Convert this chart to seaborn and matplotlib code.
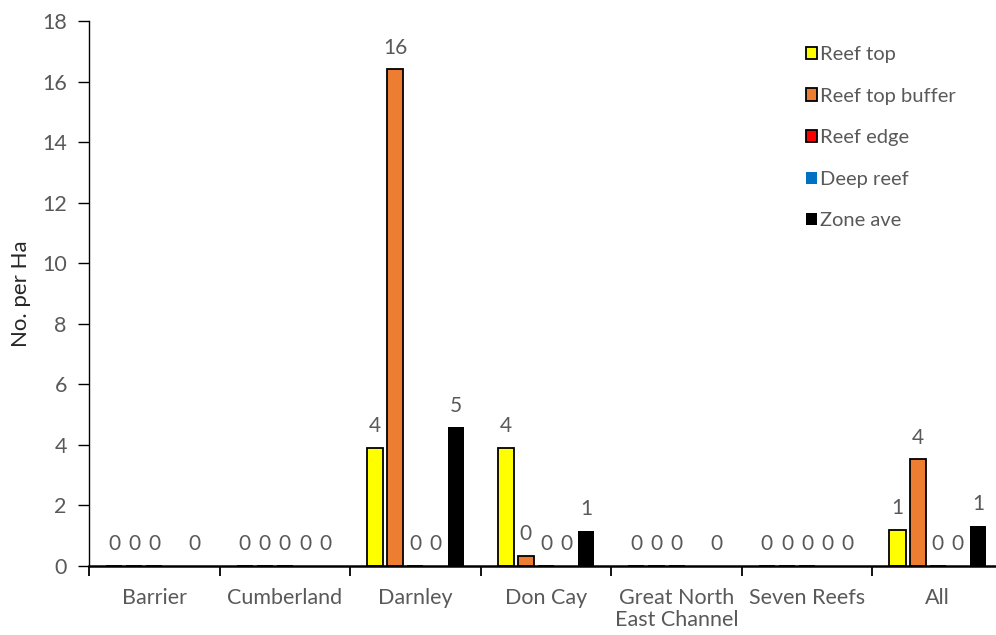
import numpy as np
import pandas as pd
import matplotlib
matplotlib.use("Agg")
import matplotlib.pyplot as plt
from matplotlib.patches import Patch
import seaborn as sns

# Sites along the x axis
sites = ["Barrier", "Cumberland", "Darnley", "Don Cay",
         "Great North\nEast Channel", "Seven Reefs", "All"]

# Habitat zones (one bar per zone within each site)
zones = ["Reef top", "Reef top buffer", "Reef edge", "Deep reef", "Zone ave"]

# Density (No. per Ha) for each zone; NaN = zone not surveyed at that site
reef_top        = [0.0, 0.0, 3.9,  3.9,  0.0, 0.0, 1.18]
reef_top_buffer = [0.0, 0.0, 16.4, 0.33, 0.0, 0.0, 3.52]
reef_edge       = [0.0, 0.0, 0.0,  0.0,  0.0, 0.0, 0.0]
deep_reef       = [np.nan, 0.0, 0.0, 0.0, np.nan, 0.0, 0.0]
zone_ave        = [0.0, 0.0, 4.58, 1.15, 0.0, 0.0, 1.32]

zone_colors = ["#FFFF00", "#ED7D31", "#FF0000", "#0070C0", "#000000"]
zone_edges = ["#000000", "#000000", "#000000", "none", "none"]

rows = []
for zone, vals in zip(zones, [reef_top, reef_top_buffer, reef_edge, deep_reef, zone_ave]):
    for site, v in zip(sites, vals):
        if not np.isnan(v):
            rows.append({"site": site, "zone": zone, "value": v})
df = pd.DataFrame(rows)

sns.set_theme(style="white")
font = "Lato"
plt.rcParams["font.family"] = [font, "DejaVu Sans"]
gray = "#595959"

fig = plt.figure(figsize=(9.96, 6.35), dpi=100)
ax = fig.add_axes([89 / 996, 1 - 566 / 635, (1003 - 89) / 996, 545 / 635])

sns.barplot(data=df, x="site", y="value", hue="zone", order=sites, hue_order=zones,
            palette=zone_colors, width=0.77, gap=0.2, errorbar=None,
            saturation=1, ax=ax, legend=False)


def excel_round(v):
    return f"{int(np.floor(v + 0.5))}"


for cont, ec in zip(ax.containers, zone_edges):
    for bar in cont:
        if ec == "none":
            bar.set_edgecolor("none")
            bar.set_linewidth(0)
        else:
            bar.set_edgecolor(ec)
            bar.set_linewidth(1.3)
    ax.bar_label(cont, labels=[excel_round(v) for v in cont.datavalues],
                 padding=8.5, color=gray, fontsize=15)

ax.set_ylim(0, 18)
ax.set_yticks(np.arange(0, 19, 2))
ax.set_xlim(-0.5, len(sites) - 0.5)

# Category boundaries as major ticks, names centred between them
ax.set_xticks(np.arange(-0.5, len(sites), 1.0))
ax.set_xticklabels([])
ax.set_xticks(np.arange(len(sites)), minor=True)
ax.set_xticklabels(sites, minor=True, color=gray, fontsize=15.5, linespacing=1.1)
ax.tick_params(axis="x", which="major", direction="out", length=7, width=1.3,
               color="black", bottom=True)
ax.tick_params(axis="x", which="minor", length=0, pad=16)
ax.tick_params(axis="y", direction="out", length=8, width=1.0, color="black",
               left=True, labelsize=15.5, labelcolor=gray, pad=8)

for side in ["top", "right"]:
    ax.spines[side].set_visible(False)
ax.spines["left"].set_color("#000000")
ax.spines["left"].set_linewidth(1.0)
ax.spines["bottom"].set_color("#000000")
ax.spines["bottom"].set_linewidth(1.8)

ax.set_xlabel("")
ax.set_ylabel("No. per Ha", color="#262626", fontsize=16, labelpad=8)

handles = [Patch(facecolor=c, edgecolor=("black" if e != "none" else c), linewidth=1.3 if e != "none" else 0)
           for c, e in zip(zone_colors, zone_edges)]
leg = fig.legend(handles, zones, loc="upper left", bbox_to_anchor=(798 / 996, 1 - 38 / 635),
                 frameon=False, fontsize=14.5, handlelength=0.55, handleheight=0.55,
                 handletextpad=0.15, labelspacing=1.22, borderaxespad=0)
for t in leg.get_texts():
    t.set_color(gray)

fig.savefig("out.png", dpi=100)
